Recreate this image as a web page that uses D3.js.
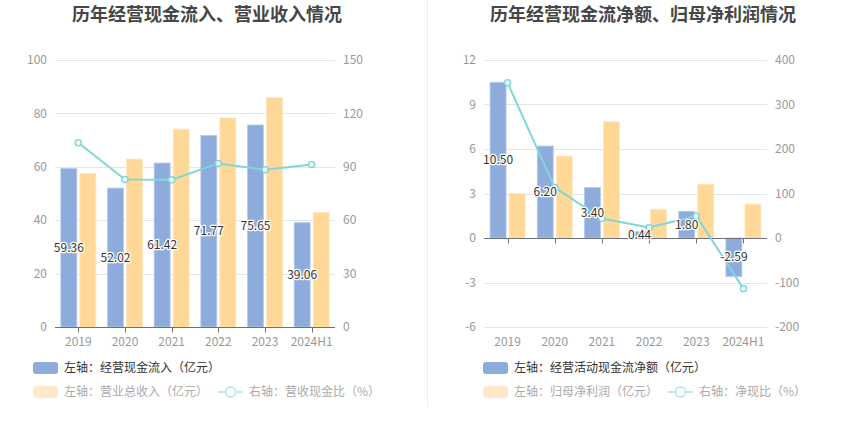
<!DOCTYPE html>
<html><head><meta charset="utf-8">
<script src="https://cdn.jsdelivr.net/npm/d3@7"></script>
<style>
html,body{margin:0;padding:0;background:#fff;}
svg text{font-family:"Noto Sans CJK SC","Noto Sans",sans-serif;}
</style></head>
<body>
<svg id="chart" width="850" height="437"></svg>
<script>
const categories = ['2019','2020','2021','2022','2023','2024H1'];
// left chart
const cashInflow = [59.36, 52.02, 61.42, 71.77, 75.65, 39.06];
const revenue = [57.5, 62.9, 74.1, 78.3, 85.9, 42.9];
const cashRatio = [103.5, 82.9, 82.7, 91.9, 88.3, 91.3];
const leftTicksL = [0, 20, 40, 60, 80, 100];
const leftTicksR = [0, 30, 60, 90, 120, 150];
// right chart
const netCashFlow = [10.50, 6.20, 3.40, 0.44, 1.80, -2.59];
const netProfit = [3.0, 5.52, 7.84, 1.94, 3.63, 2.28];
const netCashRatio = [348.7, 113.4, 43.6, 23.4, 49.5, -113.8];
const rightTicksL = [-6, -3, 0, 3, 6, 9, 12];
const rightTicksR = [-200, -100, 0, 100, 200, 300, 400];

const C = {blue:'#8eacdb', yellow:'#ffd897', line:'#80d6da', grid:'#e0e6f1', axis:'#6e7079', tick:'#999', text:'#333'};
const svg = d3.select('#chart');

svg.append('line').attr('x1',427.5).attr('x2',427.5).attr('y1',0).attr('y2',407).attr('stroke','#eeeeee').attr('stroke-width',1);

function drawChart(cfg){
  const g = svg.append('g');
  const x = d3.scaleBand().domain(categories).range([cfg.left, cfg.right]);
  const inner = d3.scaleBand().domain(['a','b']).range([-17.5,17.5]).paddingInner(0.16);
  const yL = d3.scaleLinear().domain(cfg.domL).range([cfg.bottom, cfg.top]);
  const yR = d3.scaleLinear().domain(cfg.domR).range([cfg.bottom, cfg.top]);
  const cx = c => x(c) + x.bandwidth()/2;

  // title
  g.append('text').attr('x',cfg.titleX).attr('y',21).attr('text-anchor','middle')
    .attr('font-size',18).attr('font-weight','bold').attr('fill','#464646').text(cfg.title);

  // grid
  g.selectAll('.grid').data(cfg.ticksL).enter().append('line')
    .attr('x1',cfg.left).attr('x2',cfg.right)
    .attr('y1',d=>Math.round(yL(d))+0.5).attr('y2',d=>Math.round(yL(d))+0.5)
    .attr('stroke',C.grid).attr('stroke-width',1);

  // left tick labels
  g.selectAll('.tl').data(cfg.ticksL).enter().append('text')
    .attr('x',cfg.left-8).attr('y',d=>yL(d)).attr('dy','0.35em').attr('text-anchor','end')
    .attr('font-size',12).attr('fill',C.tick).text(d=>d);
  // right tick labels
  g.selectAll('.tr').data(cfg.ticksR).enter().append('text')
    .attr('x',cfg.right+8).attr('y',d=>yR(d)).attr('dy','0.35em').attr('text-anchor','start')
    .attr('font-size',12).attr('fill',C.tick).text(d=>d);

  // bars
  const zero = yL(0);
  g.selectAll('.b1').data(cfg.bars1).enter().append('rect')
    .attr('x',(d,i)=>cx(categories[i])+inner('a'))
    .attr('width',inner.bandwidth())
    .attr('y',d=>Math.min(yL(d),zero)).attr('height',d=>Math.abs(yL(d)-zero))
    .attr('fill',C.blue).attr('stroke','#b7cbeb').attr('stroke-width',0.8);
  g.selectAll('.b2').data(cfg.bars2).enter().append('rect')
    .attr('x',(d,i)=>cx(categories[i])+inner('b'))
    .attr('width',inner.bandwidth())
    .attr('y',d=>Math.min(yL(d),zero)).attr('height',d=>Math.abs(yL(d)-zero))
    .attr('fill',C.yellow).attr('stroke','#ffe7bf').attr('stroke-width',0.8);

  // x axis
  const ax = g.append('g').attr('transform',`translate(0,${Math.round(zero)+0.5})`);
  ax.append('line').attr('x1',cfg.left).attr('x2',cfg.right).attr('stroke',C.axis).attr('stroke-width',1);
  ax.selectAll('.tk').data(categories).enter().append('line')
    .attr('x1',d=>Math.round(cx(d))+0.5).attr('x2',d=>Math.round(cx(d))+0.5).attr('y1',0).attr('y2',5)
    .attr('stroke',C.axis);
  g.selectAll('.xl').data(categories).enter().append('text')
    .attr('x',d=>cx(d)).attr('y',cfg.bottom+19).attr('text-anchor','middle')
    .attr('font-size',12).attr('fill',C.tick).text(d=>d);

  // line
  const line = d3.line().x((d,i)=>cx(categories[i])).y(d=>yR(d));
  g.append('path').datum(cfg.lineData).attr('d',line).attr('fill','none')
    .attr('stroke',C.line).attr('stroke-width',2);
  g.selectAll('.pt').data(cfg.lineData).enter().append('circle')
    .attr('cx',(d,i)=>cx(categories[i])).attr('cy',d=>yR(d)).attr('r',3)
    .attr('fill','#fff').attr('stroke',C.line).attr('stroke-width',1.5);

  // labels
  g.selectAll('.lab').data(cfg.bars1).enter().append('text')
    .attr('x',(d,i)=>cx(categories[i])+inner('a')+inner.bandwidth()/2)
    .attr('y',d=>(yL(d)+zero)/2).attr('dy','0.35em').attr('text-anchor','middle')
    .attr('font-size',12).attr('fill',C.text)
    .attr('stroke','#fff').attr('stroke-width',2.5).attr('paint-order','stroke').attr('stroke-linejoin','round')
    .text(d=>d.toFixed(2));

  // legend
  const lg = g.append('g');
  const L = cfg.legendX;
  lg.append('rect').attr('x',L).attr('y',362).attr('width',25).attr('height',12).attr('rx',3).attr('fill',C.blue);
  lg.append('text').attr('x',L+31).attr('y',368).attr('dy','0.35em').attr('font-size',12).attr('fill','#333').text(cfg.leg1);
  lg.append('rect').attr('x',L).attr('y',386).attr('width',25).attr('height',12).attr('rx',3).attr('fill','#ffe9c8');
  lg.append('text').attr('x',L+31).attr('y',392).attr('dy','0.35em').attr('font-size',12).attr('fill','#aaa').text(cfg.leg2);
  const lx = cfg.leg3X;
  lg.append('line').attr('x1',lx).attr('x2',lx+25).attr('y1',392).attr('y2',392).attr('stroke','#bfeaec').attr('stroke-width',2);
  lg.append('circle').attr('cx',lx+12.5).attr('cy',392).attr('r',5).attr('fill','#fff').attr('stroke','#bfeaec').attr('stroke-width',2);
  lg.append('text').attr('x',lx+31).attr('y',392).attr('dy','0.35em').attr('font-size',12).attr('fill','#aaa').text(cfg.leg3);
}

drawChart({
  title:'历年经营现金流入、营业收入情况', titleX:207,
  left:55, right:335, top:60, bottom:327,
  domL:[0,100], domR:[0,150], ticksL:leftTicksL, ticksR:leftTicksR,
  bars1:cashInflow, bars2:revenue, lineData:cashRatio,
  legendX:33, leg3X:218,
  leg1:'左轴：经营现金流入（亿元）', leg2:'左轴：营业总收入（亿元）', leg3:'右轴：营收现金比（%）'
});
drawChart({
  title:'历年经营现金流净额、归母净利润情况', titleX:643,
  left:484, right:767, top:60, bottom:327,
  domL:[-6,12], domR:[-200,400], ticksL:rightTicksL, ticksR:rightTicksR,
  bars1:netCashFlow, bars2:netProfit, lineData:netCashRatio,
  legendX:483, leg3X:668,
  leg1:'左轴：经营活动现金流净额（亿元）', leg2:'左轴：归母净利润（亿元）', leg3:'右轴：净现比（%）'
});
</script>
</body></html>
